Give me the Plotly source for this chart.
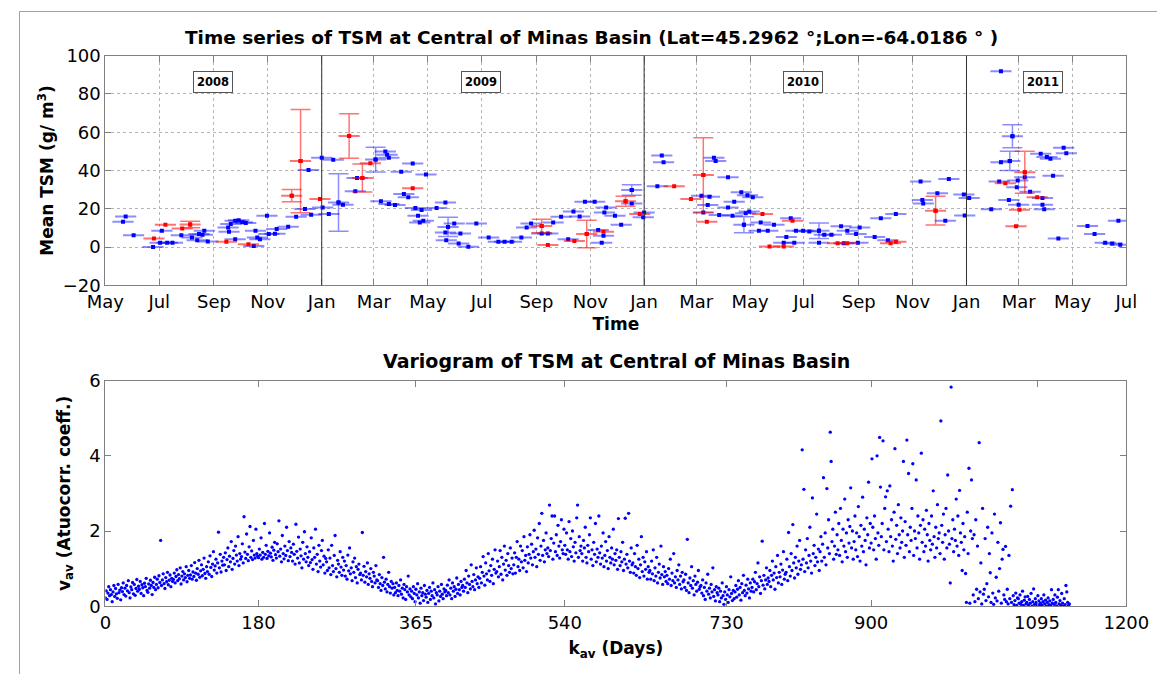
import pandas as pd
import plotly.graph_objects as go

# ---------------- Data: time series of TSM (top panel) ----------------
BASE_DATE = "2008-05-01"          # day 0 of the series
HALF_WINDOW_DAYS = 12             # horizontal error (averaging window half width)

blue_day = [23, 20, 32, 54, 64, 62, 70, 76, 86, 98, 104, 106, 112, 110, 116, 142, 147, 151, 155, 159,
            140, 139, 147, 168, 172, 175, 170, 185, 192, 194, 183, 207, 216, 226, 233, 230, 245, 258, 246, 253,
            264, 269, 283, 285, 306, 317, 319, 321, 312, 321, 328, 335, 348, 338, 343, 351, 358, 363, 354, 356,
            360, 375, 385, 388, 395, 420, 385, 402, 386, 400, 411, 434, 445, 452, 460, 471, 482, 477, 494, 501,
            507, 516, 524, 530, 537, 543, 554, 558, 564, 562, 567, 565, 577, 584, 596, 596, 609, 610, 630, 632,
            625, 675, 684, 682, 677, 695, 689, 691, 705, 712, 720, 705, 710, 723, 725, 727, 733, 729, 742, 757,
            740, 750, 771, 768, 780, 776, 782, 790, 797, 808, 814, 822, 808, 833, 840, 850, 836, 852, 854, 871,
            878, 895, 886, 923, 925, 926, 942, 955, 951, 972, 978, 973, 1003, 1014, 1027, 1024, 1014, 1033, 1032, 1041,
            1012, 1023, 1034, 1059, 1066, 1070, 1085, 1088, 1073, 1047, 1061, 1061, 1063, 1079, 1112, 1120, 1147, 1132, 1140, 1149]
blue_tsm = [16.0, 13.2, 6.2, 0.0, 8.5, 2.2, 2.2, 2.2, 6.2, 5.0, 3.6, 6.8, 8.5, 6.4, 2.9, 12.0, 13.7, 14.0, 13.0, 12.5,
            8.0, 10.2, 4.1, 0.6, 5.0, 4.1, 8.5, 6.8, 6.9, 9.4, 16.4, 10.6, 15.8, 19.9, 16.9, 40.3, 46.6, 45.6, 20.7, 17.2,
            23.3, 22.1, 29.1, 36.1, 45.7, 49.9, 48.2, 46.6, 23.9, 22.5, 22.0, 39.4, 43.6, 27.7, 26.0, 20.4, 19.3, 37.9, 16.4, 12.8,
            13.7, 20.4, 23.3, 10.5, 12.3, 12.3, 7.6, 7.1, 3.6, 1.8, 0.1, 5.0, 2.7, 2.7, 2.7, 5.0, 12.3, 10.2, 7.1, 7.1,
            12.8, 15.8, 4.1, 18.6, 16.0, 23.7, 23.7, 8.9, 5.9, 2.3, 20.7, 18.1, 16.4, 11.6, 29.8, 22.8, 15.5, 18.1, 47.8, 44.3,
            31.7, 26.8, 26.3, 22.0, 18.1, 16.7, 46.6, 44.9, 36.5, 23.7, 28.6, 20.7, 16.4, 11.6, 17.6, 27.0, 26.0, 18.6, 12.8, 11.6,
            8.5, 8.5, 5.3, 2.2, 2.2, 15.0, 8.5, 8.5, 8.1, 8.5, 6.4, 6.4, 2.3, 10.8, 8.5, 6.8, 2.0, 2.3, 10.2, 5.3,
            15.1, 17.2, 3.6, 34.2, 24.6, 22.8, 28.1, 35.6, 13.7, 27.4, 25.6, 16.5, 19.7, 91.9, 57.9, 45.0, 44.3, 34.7, 31.2, 36.5,
            34.2, 24.6, 22.1, 48.7, 47.0, 46.1, 51.9, 49.0, 37.3, 28.9, 25.6, 22.1, 19.7, 4.5, 11.0, 6.8, 13.7, 2.3, 1.8, 1.2]
blue_err = [0, 0, 0, 0, 0, 0, 0, 0, 0, 0, 0, 0, 0, 0, 0, 0, 0, 0, 0, 0,
            0, 0, 0, 0, 0, 0, 0, 0, 0, 0, 0, 0, 0, 0, 0, 0, 0, 0, 0, 0,
            15.0, 0, 0, 0, 6.5, 0, 0, 0, 0, 0, 0, 0, 0, 0, 0, 0, 0, 0, 0, 0,
            0, 0, 0, 5.0, 0, 0, 0, 0, 0, 0, 0, 0, 0, 0, 0, 0, 0, 0, 0, 0,
            0, 0, 0, 0, 0, 0, 0, 0, 0, 0, 0, 0, 0, 0, 2.7, 0, 0, 0, 0, 0,
            0, 0, 0, 0, 0, 0, 0, 0, 0, 0, 0, 0, 0, 4.2, 0, 0, 0, 0, 0, 0,
            0, 0, 0, 0, 0, 0, 0, 0, 0, 4.0, 0, 0, 0, 0, 0, 0, 0, 0, 0, 0,
            0, 0, 0, 0, 0, 0, 0, 0, 0, 0, 0, 0, 0, 0, 6.0, 5.0, 0, 0, 0, 0,
            0, 0, 0, 0, 0, 0, 0, 0, 0, 0, 0, 0, 0, 0, 0, 0, 0, 0, 0, 0]

red_day = [68, 96, 55, 87, 137, 162, 211, 221, 243, 276, 291, 300, 348, 494, 501, 531, 545, 564, 589, 605,
           644, 663, 677, 681, 744, 752, 768, 778, 829, 840, 889, 895, 940, 1041, 1019, 1035, 1031, 1055]
red_tsm = [11.6, 11.8, 4.5, 9.7, 2.7, 1.5, 26.8, 44.9, 25.1, 58.0, 36.1, 43.8, 30.7, 11.0, 1.0, 3.1, 6.8, 8.0, 23.9, 17.2,
           31.7, 25.1, 37.6, 13.2, 17.2, 0.3, 0.3, 13.7, 2.0, 2.0, 2.0, 2.7, 19.0, 39.1, 33.3, 19.5, 10.8, 26.0]
red_err = [0, 1.7, 0, 0, 0, 0, 3.2, 27.0, 0, 11.6, 7.3, 0, 0, 3.5, 0, 0, 7.2, 0, 2.6, 0,
           0, 0, 19.5, 0, 0, 0, 0, 0, 0, 0, 0, 0, 7.5, 11.0, 0, 0, 0, 0]

year_starts = ["2009-01-01", "2010-01-01", "2011-01-01"]
year_labels = ["2008", "2009", "2010", "2011"]

# ---------------- Data: variogram (bottom panel), one value per lag day ----------------
vario_v = [
    0.22, 0.41, 0.18, 0.35, 0.52, 0.28, 0.44, 0.31, 0.12, 0.38, 0.55, 0.26, 0.47, 0.33, 0.21, 0.58, 0.36, 0.43, 0.17, 0.49,
    0.39, 0.62, 0.31, 0.48, 0.27, 0.55, 0.41, 0.68, 0.36, 0.22, 0.51, 0.44, 0.63, 0.33, 0.58, 0.29, 0.47, 0.71, 0.40, 0.53,
    0.45, 0.66, 0.34, 0.57, 0.49, 0.28, 0.61, 0.52, 0.74, 0.42, 0.37, 0.59, 0.48, 0.69, 0.55, 0.31, 0.63, 0.50, 0.77, 0.44,
    0.58, 0.72, 0.49, 0.81, 0.63, 1.75, 0.55, 0.70, 0.86, 0.60, 0.47, 0.76, 0.65, 0.90, 0.57, 0.69, 0.83, 0.52, 0.74, 0.66,
    0.71, 0.88, 0.62, 0.79, 0.97, 0.68, 0.84, 0.73, 1.02, 0.59, 0.80, 0.92, 0.70, 0.86, 0.76, 1.05, 0.65, 0.82, 0.95, 0.74,
    0.83, 1.08, 0.72, 0.91, 0.79, 1.16, 0.88, 0.69, 1.00, 0.85, 1.22, 0.77, 0.94, 1.10, 0.81, 0.98, 1.28, 0.87, 0.74, 1.05,
    0.92, 1.18, 0.85, 1.34, 1.03, 0.79, 1.12, 1.45, 0.96, 1.07, 1.25, 0.88, 1.15, 1.97, 1.02, 1.38, 0.91, 1.20, 1.09, 1.30,
    1.10, 1.42, 0.95, 1.24, 1.55, 1.05, 1.33, 1.18, 1.72, 0.98, 1.27, 1.48, 1.12, 1.60, 1.36, 1.20, 1.85, 1.08, 1.40, 1.25,
    1.32, 1.66, 1.15, 2.38, 1.44, 1.27, 1.92, 1.38, 1.21, 1.58, 2.12, 1.30, 1.47, 1.24, 1.75, 1.36, 1.28, 2.05, 1.40, 1.33,
    1.29, 1.52, 1.36, 1.82, 1.25, 1.43, 1.30, 2.20, 1.38, 1.62, 1.27, 1.46, 1.34, 1.95, 1.41, 1.31, 1.57, 1.22, 1.49, 1.70,
    1.37, 1.28, 1.66, 1.45, 2.27, 1.33, 1.52, 1.18, 1.88, 1.40, 1.26, 1.60, 1.35, 2.10, 1.48, 1.21, 1.72, 1.32, 1.55, 1.43,
    1.20, 1.65, 1.38, 1.12, 2.18, 1.46, 1.28, 1.84, 1.15, 1.52, 1.34, 1.02, 1.70, 1.25, 1.98, 1.40, 1.18, 1.58, 1.30, 1.08,
    1.45, 1.16, 1.82, 1.24, 0.98, 1.55, 1.30, 2.05, 1.12, 1.38, 0.92, 1.62, 1.20, 1.04, 1.48, 1.75, 1.10, 1.33, 0.88, 1.27,
    1.18, 0.95, 1.50, 1.02, 1.28, 0.84, 1.62, 1.08, 0.92, 1.35, 1.88, 1.00, 0.78, 1.22, 1.12, 0.90, 1.45, 1.04, 0.82, 1.30,
    0.96, 1.20, 0.80, 1.08, 0.72, 1.36, 0.94, 1.55, 0.86, 1.02, 0.68, 1.18, 0.90, 1.28, 0.76, 1.05, 0.62, 0.98, 1.12, 0.84,
    0.88, 0.70, 1.96, 0.82, 1.06, 0.64, 0.92, 0.78, 1.15, 0.58, 0.86, 0.74, 1.00, 0.66, 0.52, 0.90, 0.80, 0.62, 1.08, 0.70,
    0.68, 0.50, 0.84, 0.60, 0.42, 0.76, 0.55, 1.30, 0.64, 0.46, 0.72, 0.38, 0.58, 0.90, 0.52, 0.35, 0.66, 0.48, 0.60, 0.30,
    0.50, 0.36, 0.62, 0.42, 0.28, 0.55, 0.40, 0.70, 0.32, 0.48, 0.22, 0.58, 0.44, 0.18, 0.52, 0.38, 0.80, 0.30, 0.46, 0.25,
    0.40, 0.20, 0.52, 0.34, 0.12, 0.45, 0.30, 0.60, 0.22, 0.38, 0.08, 0.48, 0.28, 0.36, 0.15, 0.55, 0.32, 0.24, 0.42, 0.10,
    0.34, 0.50, 0.18, 0.40, 0.28, 0.62, 0.22, 0.44, 0.06, 0.36, 0.30, 0.52, 0.14, 0.40, 0.26, 0.58, 0.32, 0.20, 0.46, 0.38,
    0.42, 0.28, 0.56, 0.36, 0.70, 0.30, 0.48, 0.20, 0.62, 0.40, 0.52, 0.26, 0.45, 0.75, 0.34, 0.58, 0.44, 0.30, 0.66, 0.50,
    0.55, 0.40, 0.72, 0.50, 0.95, 0.62, 0.36, 0.80, 0.58, 0.46, 1.10, 0.66, 0.52, 0.84, 0.44, 0.70, 1.02, 0.60, 0.78, 0.50,
    0.74, 1.05, 0.62, 0.90, 1.32, 0.80, 0.56, 1.15, 0.86, 0.70, 1.40, 0.94, 0.66, 1.08, 0.82, 1.25, 0.60, 0.98, 1.50, 0.88,
    0.92, 1.20, 0.78, 1.05, 1.48, 0.85, 1.30, 0.70, 1.12, 1.60, 0.96, 1.22, 0.82, 1.40, 1.08, 0.90, 1.55, 1.00, 1.28, 0.86,
    1.10, 1.42, 0.88, 1.30, 1.72, 1.05, 1.25, 0.95, 1.60, 1.18, 1.48, 1.02, 1.85, 1.22, 1.35, 0.92, 1.58, 1.15, 1.38, 1.90,
    1.28, 1.65, 1.10, 1.45, 2.02, 1.30, 1.52, 1.05, 1.82, 1.38, 2.20, 1.22, 1.60, 2.47, 1.35, 1.75, 1.18, 1.50, 1.95, 1.40,
    1.55, 1.32, 2.69, 1.48, 1.80, 2.40, 1.25, 1.68, 2.40, 1.45, 1.90, 1.35, 2.15, 1.60, 1.28, 1.72, 2.30, 1.50, 1.40, 2.05,
    1.62, 1.38, 1.95, 1.50, 1.25, 2.25, 1.45, 1.80, 1.32, 2.00, 1.58, 1.20, 1.70, 1.42, 2.35, 2.69, 1.30, 1.85, 1.48, 1.60,
    1.40, 1.20, 1.75, 1.55, 2.10, 1.30, 1.15, 1.62, 1.45, 1.90, 2.35, 1.25, 1.50, 1.08, 1.70, 1.38, 2.20, 1.18, 1.52, 1.30,
    2.40, 1.42, 1.12, 1.60, 1.28, 1.95, 1.05, 1.35, 1.72, 1.20, 1.48, 1.00, 1.85, 1.30, 1.15, 1.55, 1.25, 2.05, 1.10, 1.40,
    1.22, 1.50, 0.98, 2.33, 1.30, 1.08, 1.45, 1.18, 1.70, 0.95, 1.25, 2.34, 1.12, 1.38, 1.02, 2.47, 1.20, 0.90, 1.55, 1.10,
    1.15, 0.88, 1.40, 1.05, 0.82, 1.62, 1.00, 1.25, 0.76, 1.10, 1.85, 0.92, 1.30, 0.80, 1.18, 0.98, 1.45, 0.72, 1.05, 0.90,
    0.95, 0.72, 1.20, 0.86, 1.50, 0.68, 1.02, 0.80, 1.30, 0.62, 0.90, 1.12, 0.75, 1.60, 0.84, 0.58, 1.05, 0.78, 0.92, 0.66,
    0.82, 0.60, 1.00, 0.72, 1.25, 0.55, 0.88, 0.68, 1.40, 0.62, 0.78, 0.50, 0.95, 0.70, 1.10, 0.58, 0.80, 0.46, 0.90, 0.65,
    0.70, 0.50, 0.85, 0.42, 1.78, 0.62, 0.36, 0.75, 0.55, 1.05, 0.48, 0.68, 0.30, 0.80, 0.58, 0.40, 0.64, 0.95, 0.45, 0.52,
    0.55, 0.35, 0.70, 0.28, 0.50, 0.18, 0.62, 0.40, 0.85, 0.32, 0.48, 0.22, 0.58, 0.38, 1.02, 0.26, 0.44, 0.14, 0.52, 0.36,
    0.30, 0.48, 0.12, 0.40, 0.22, 0.62, 0.28, 0.05, 0.38, 0.18, 0.52, 0.30, 0.10, 0.44, 0.25, 0.78, 0.34, 0.15, 0.42, 0.20,
    0.38, 0.55, 0.24, 0.45, 0.68, 0.30, 0.50, 0.16, 0.60, 0.36, 0.82, 0.42, 0.28, 0.56, 0.35, 0.72, 0.46, 0.22, 0.62, 0.40,
    0.50, 0.72, 0.38, 0.65, 0.90, 0.44, 0.60, 1.15, 0.52, 0.78, 0.34, 0.68, 1.73, 0.56, 0.82, 0.46, 0.70, 1.02, 0.58, 0.75,
    0.66, 0.95, 0.52, 0.82, 1.20, 0.70, 0.88, 0.45, 1.05, 0.76, 1.35, 0.62, 0.90, 0.78, 1.12, 0.58, 0.96, 1.45, 0.72, 0.85,
    0.90, 1.25, 0.68, 1.96, 1.05, 0.80, 1.40, 0.95, 2.17, 1.15, 0.75, 1.30, 1.02, 1.60, 0.85, 1.20, 1.75, 0.98, 1.10, 4.16,
    1.25, 3.11, 0.92, 1.50, 1.15, 1.80, 1.02, 1.35, 2.10, 1.20, 0.88, 2.88, 1.40, 1.62, 1.08, 1.30, 2.45, 1.18, 1.52, 0.95,
    1.45, 1.85, 1.20, 1.65, 3.42, 1.30, 1.95, 1.10, 3.13, 1.55, 2.30, 1.40, 4.63, 3.85, 1.72, 2.05, 1.25, 1.60, 2.50, 1.38,
    1.90, 1.50, 2.20, 1.35, 2.60, 1.75, 1.18, 2.05, 1.60, 2.85, 1.45, 1.95, 1.30, 2.30, 1.68, 2.12, 3.15, 1.55, 2.00, 1.25,
    1.72, 2.40, 1.50, 1.95, 1.32, 2.65, 1.85, 1.20, 2.15, 1.60, 2.90, 1.45, 2.05, 1.75, 1.10, 2.35, 1.90, 3.30, 1.55, 2.20,
    1.68, 3.92, 2.10, 1.50, 2.40, 1.80, 1.25, 4.00, 1.95, 1.62, 4.49, 3.17, 1.85, 2.20, 4.40, 1.50, 2.60, 2.91, 1.72, 3.07,
    2.05, 1.45, 3.20, 1.85, 2.30, 1.60, 1.20, 2.50, 4.19, 1.78, 2.15, 1.40, 2.70, 1.90, 1.55, 2.35, 1.70, 2.00, 3.85, 1.30,
    2.25, 1.62, 4.42, 1.90, 3.53, 1.45, 2.10, 1.75, 2.60, 3.79, 1.35, 2.00, 1.80, 3.36, 1.55, 2.40, 1.95, 1.25, 2.15, 4.07,
    1.70, 2.30, 1.45, 2.05, 1.60, 2.55, 1.90, 1.20, 2.20, 1.75, 1.50, 2.40, 1.65, 3.07, 1.85, 1.30, 2.10, 1.55, 2.70, 1.80,
    1.95, 1.40, 4.93, 2.15, 1.70, 2.45, 1.25, 1.90, 2.60, 1.55, 3.49, 2.00, 1.65, 0.62, 5.83, 1.80, 2.30, 1.45, 2.05, 1.75,
    2.85, 1.60, 2.40, 1.35, 3.08, 1.95, 1.70, 0.95, 2.20, 1.50, 1.85, 0.87, 0.10, 2.50, 1.40, 3.67, 0.08, 2.00, 3.36, 1.80,
    0.30, 1.90, 0.12, 2.30, 0.45, 1.60, 0.20, 4.35, 0.38, 1.15, 0.06, 2.60, 0.32, 0.45, 1.80, 0.15, 0.60, 2.10, 0.25, 1.40,
    0.89, 0.10, 1.95, 0.35, 0.05, 2.45, 0.22, 0.77, 0.14, 1.70, 0.40, 1.00, 2.22, 0.08, 1.25, 1.51, 0.30, 0.18, 1.59, 0.12,
    0.45, 0.06, 1.35, 0.20, 2.66, 0.10, 3.10, 0.28, 0.04, 0.15, 0.35, 0.02, 0.22, 0.20, 0.08, 0.30, 0.05, 0.12, 0.40, 0.02,
    0.16, 0.25, 0.06, 0.10, 0.26, 0.03, 0.18, 0.08, 0.34, 0.00, 0.12, 0.46, 0.05, 0.20, 0.10, 0.02, 0.28, 0.14, 0.04, 0.08,
    0.20, 0.03, 0.12, 0.30, 0.06, 0.16, 0.00, 0.10, 0.22, 0.04, 0.14, 0.02, 0.44, 0.08, 0.18, 0.05, 0.30, 0.10, 0.01, 0.24,
    0.44, 0.06, 0.15, 0.02, 0.34, 0.08, 0.00, 0.20, 0.04, 0.55, 0.38, 0.10, 0.02, 0.06,
]
vario_k = list(range(len(vario_v)))
vario_ticks = [0, 180, 365, 540, 730, 900, 1095, 1200]

# ---------------- Derived axis helpers ----------------
base = pd.Timestamp(BASE_DATE)
month_ticks = pd.date_range("2008-05-01", "2011-07-01", freq="2MS")
tick_days = [(d - base).days for d in month_ticks]
tick_text = [d.strftime("%b") for d in month_ticks]
year_days = [(pd.Timestamp(d) - base).days for d in year_starts]

# figure canvas and the mapping from target picture pixels to canvas pixels
W, H = 1180, 690
SCALE, CX, CY = 0.966, 16.5, 11.0
FONT = "DejaVu Sans, Verdana, sans-serif"
AXC = "#808080"


def px_x(p):
    return ((p - CX) / SCALE) / W


def px_y(p):
    return 1 - ((p - CY) / SCALE) / H


def sel(vals, errs):
    return [v for v, e in zip(vals, errs) if e > 0]


fig = go.Figure()

BLUE_BAR = "rgba(0,0,255,0.45)"
RED_BAR = "rgba(255,0,0,0.55)"

fig.add_trace(go.Scatter(
    x=blue_day, y=blue_tsm, mode="markers", xaxis="x", yaxis="y",
    marker=dict(symbol="square", size=4, color="#0000ff"),
    error_x=dict(type="constant", value=HALF_WINDOW_DAYS, color=BLUE_BAR, thickness=2, width=0)))
fig.add_trace(go.Scatter(
    x=sel(blue_day, blue_err), y=sel(blue_tsm, blue_err), mode="markers", xaxis="x", yaxis="y",
    marker=dict(symbol="square", size=4, color="#0000ff"),
    error_y=dict(type="data", array=sel(blue_err, blue_err), color=BLUE_BAR, thickness=1.5, width=10)))
fig.add_trace(go.Scatter(
    x=red_day, y=red_tsm, mode="markers", xaxis="x", yaxis="y",
    marker=dict(symbol="square", size=4, color="#ff0000"),
    error_x=dict(type="constant", value=HALF_WINDOW_DAYS, color=RED_BAR, thickness=2, width=0)))
fig.add_trace(go.Scatter(
    x=sel(red_day, red_err), y=sel(red_tsm, red_err), mode="markers", xaxis="x", yaxis="y",
    marker=dict(symbol="square", size=4, color="#ff0000"),
    error_y=dict(type="data", array=sel(red_err, red_err), color=RED_BAR, thickness=1.5, width=10)))

fig.add_trace(go.Scatter(
    x=vario_k, y=vario_v, mode="markers", xaxis="x2", yaxis="y2",
    marker=dict(symbol="circle", size=3.3, color="#0000ff")))

x_dom = [px_x(103), px_x(1125.7)]
common = dict(showline=True, linecolor=AXC, linewidth=1, mirror="ticks", ticks="inside",
              ticklen=6, tickcolor=AXC, zeroline=False,
              tickfont=dict(family=FONT, size=18, color="#000"))
TFONT = dict(family=FONT, size=17, color="#000")

fig.update_layout(
    width=W, height=H, margin=dict(l=0, r=0, t=0, b=0),
    paper_bgcolor="white", plot_bgcolor="white", showlegend=False,
    font=dict(family=FONT, color="#000"),
    xaxis=dict(domain=x_dom, anchor="y", range=[0, tick_days[-1]],
               tickmode="array", tickvals=tick_days, ticktext=tick_text,
               showgrid=True, gridcolor="#b4b4b4", griddash="dot", gridwidth=1,
               title=dict(text="<b>Time</b>", font=TFONT, standoff=7), **common),
    yaxis=dict(domain=[px_y(284.3), px_y(55.5)], anchor="x", range=[-20, 100], dtick=20,
               showgrid=True, gridcolor="#b4b4b4", griddash="dot", gridwidth=1,
               title=dict(text="<b>Mean TSM (g/ m<sup>3</sup>)</b>", font=TFONT, standoff=4), **common),
    xaxis2=dict(domain=x_dom, anchor="y2", range=[0, 1200], tickmode="array", tickvals=vario_ticks,
                showgrid=False,
                title=dict(text="<b>k<sub>av</sub> (Days)</b>", font=TFONT, standoff=10), **common),
    yaxis2=dict(domain=[px_y(604), px_y(379.3)], anchor="x2", range=[0, 6], dtick=2, showgrid=False,
                title=dict(text="<b>v<sub>av</sub> (Atuocorr. coeff.)</b>", font=TFONT, standoff=14),
                **common),
)

shapes = []
for d in year_days:
    shapes.append(dict(type="line", xref="x", yref="y domain", x0=d, x1=d, y0=0, y1=1,
                       line=dict(color="#303030", width=1)))
# frame lines of the original screenshot (as close to the edge as the canvas allows)
fx, fy = 0.5 / W, 1 - 0.5 / H
shapes.append(dict(type="line", xref="paper", yref="paper", x0=fx, x1=1, y0=fy, y1=fy,
                   line=dict(color="#a0a0a0", width=1)))
shapes.append(dict(type="line", xref="paper", yref="paper", x0=fx, x1=fx, y0=0, y1=fy,
                   line=dict(color="#a0a0a0", width=1)))
fig.update_layout(shapes=shapes)

annotations = [
    dict(text="<b>Time series of TSM at Central of Minas Basin (Lat=45.2962 °;Lon=-64.0186 ° )</b>",
         xref="paper", yref="paper", x=px_x(590), y=px_y(37), showarrow=False,
         font=dict(family=FONT, size=18.5), xanchor="center", yanchor="middle"),
    dict(text="<b>Variogram of TSM at Central of Minas Basin</b>",
         xref="paper", yref="paper", x=px_x(615), y=px_y(360), showarrow=False,
         font=dict(family=FONT, size=19), xanchor="center", yanchor="middle"),
]
year_label_x = [122, 425, 790, 1062]
for lab, xd in zip(year_labels, year_label_x):
    annotations.append(dict(text="<b>" + lab + "</b>", xref="x", yref="y", x=xd, y=86,
                            showarrow=False, font=dict(family=FONT, size=11.5), bgcolor="white",
                            bordercolor="#555555", borderwidth=1, borderpad=3))
fig.update_layout(annotations=annotations)

fig.write_html("out.html")
